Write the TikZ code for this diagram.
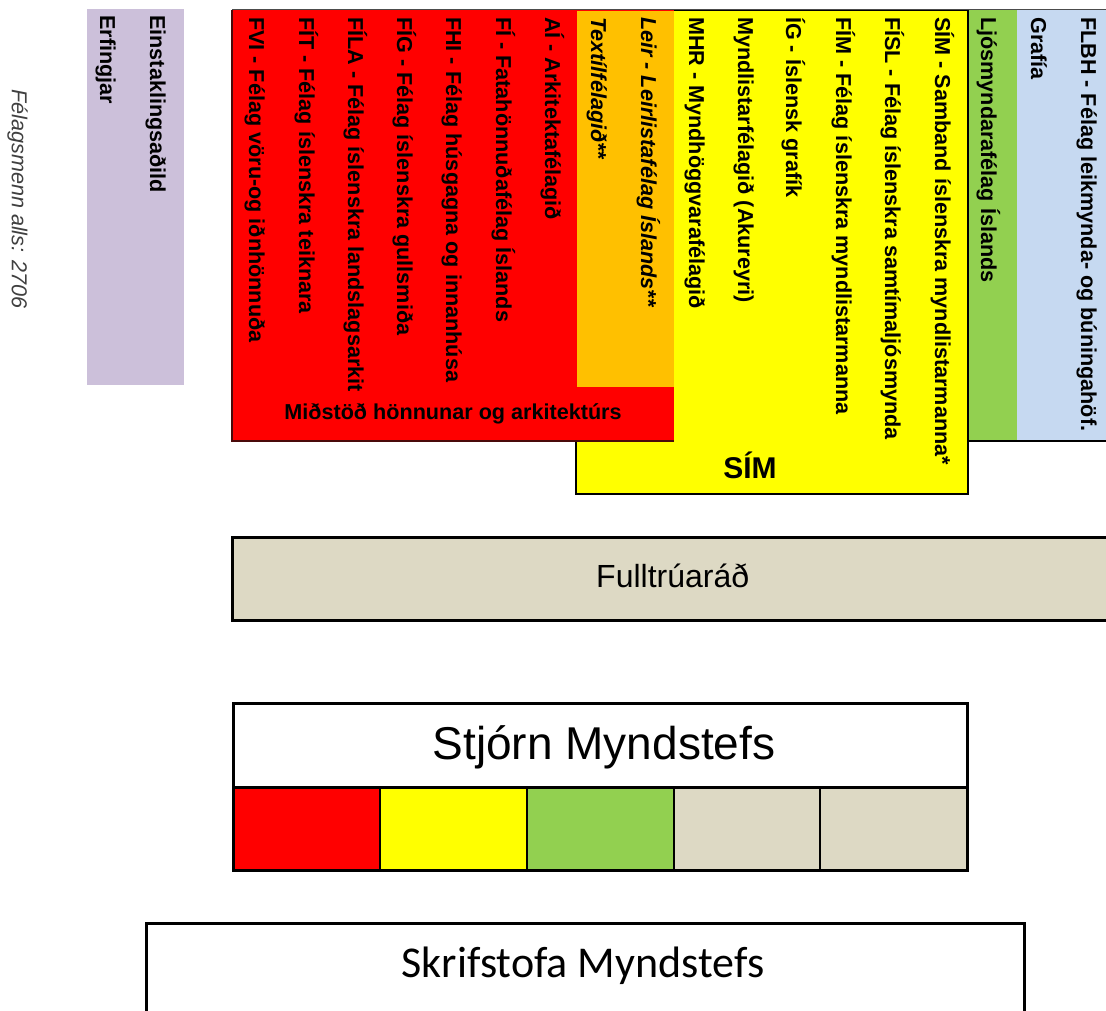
\documentclass[tikz,border=0pt]{standalone}
\usepackage{fontspec}
\setmainfont{Liberation Sans}
\newfontfamily\calfont{Carlito}
\definecolor{cred}{HTML}{FF0000}
\definecolor{corange}{HTML}{FFC000}
\definecolor{cyellow}{HTML}{FFFF00}
\definecolor{cgreen}{HTML}{92D050}
\definecolor{cblue}{HTML}{C6D9F1}
\definecolor{cpurple}{HTML}{CCC0DA}
\definecolor{cbeige}{HTML}{DDD9C4}
\definecolor{cdarkred}{HTML}{4A0A0A}
\begin{document}
\begin{tikzpicture}[x=1pt,y=-1pt,
  vlab/.style={rotate=-90, anchor=base west, inner sep=0pt,
    font=\fontsize{21.6}{26}\selectfont\bfseries},
  vital/.style={vlab, font=\fontsize{21.6}{26}\selectfont\bfseries\itshape},
  hlab/.style={anchor=base, inner sep=0pt},
  thickbox/.style={draw=black, line width=3pt},
  cell/.style={draw=black, line width=2pt}]
\useasboundingbox (0,0) rectangle (1106,1011);
\fill[white] (0,0) rectangle (1106,1011);
\clip (0,0) rectangle (1106,1011);

% top group
\fill[cpurple] (87,9) rectangle (184,385);
\filldraw[fill=cyellow, draw=black, line width=1.5pt] (576,10) rectangle (968,494);
\fill[cred] (232,10) rectangle (674,441);
\draw[cdarkred, line width=1.2pt] (674,441) -- (232,441) -- (232,10);
\fill[corange] (577,11) rectangle (674,387);
\fill[cgreen] (968.7,10) rectangle (1017,441);
\fill[cblue] (1017,10) rectangle (1115,441);
\draw[black, line width=1.2pt] (968,441) -- (1115,441);
\draw[black!70, line width=1pt] (232,10) -- (1115,10);

% member count
\node[vlab, font=\fontsize{21.6}{26}\selectfont\itshape, text=black!75] (total) at (12,89) {Félagsmenn alls: 2706};

% purple
\node[vlab] (einst) at (150,15) {Einstaklingsaðild};
\node[vlab] (erf) at (100,15) {Erfingjar};

% red
\node[vlab] (ai) at (545,17) {AÍ - Arkitektafélagið};
\node[vlab] (fi) at (496,17) {FÍ - Fatahönnuðafélag Íslands};
\node[vlab] (fhi) at (446,17) {FHI - Félag húsgagna og innanhúsa};
\node[vlab] (fig) at (397,17) {FÍG - Félag íslenskra gullsmiða};
\node[vlab] (fila) at (348,17) {FÍLA - Félag íslenskra landslagsarkit};
\node[vlab] (fit) at (299,17) {FÍT - Félag íslenskra teiknara};
\node[vlab] (fvi) at (249,17) {FVI - Félag vöru-og iðnhönnuða};
\node[hlab, font=\fontsize{21.6}{26}\selectfont\bfseries] (midstod) at (453,419) {Miðstöð hönnunar og arkitektúrs};

% orange
\node[vital] (leir) at (641,17) {Leir - Leirlistafélag Íslands**};
\node[vital] (textil) at (591,17) {Textílfélagið**};

% yellow
\node[vlab] (mhr) at (689,17) {MHR - Myndhöggvarafélagið};
\node[vlab] (akur) at (738,17) {Myndlistarfélagið (Akureyri)};
\node[vlab] (ig) at (786,17) {ÍG - Íslensk grafík};
\node[vlab] (fim) at (836,17) {FÍM - Félag íslenskra myndlistarmanna};
\node[vlab] (fisl) at (885,17) {FÍSL - Félag íslenskra samtímaljósmynda};
\node[vlab] (sim) at (935,17) {SÍM - Samband íslenskra myndlistarmanna*};
\node[hlab, font=\fontsize{30}{36}\selectfont\bfseries] (simlabel) at (750,478) {SÍM};

% green / blue
\node[vlab] (ljos) at (981,17) {Ljósmyndarafélag Íslands};
\node[vlab] (grafia) at (1031,17) {Grafía};
\node[vlab] (flbh) at (1081,17) {FLBH - Félag leikmynda- og búningahöf.};

% Fulltruarad
\filldraw[thickbox, fill=cbeige] (232,537) rectangle (1120,620);
\node[hlab, anchor=base west, font=\fontsize{32}{38}\selectfont] (full) at (596,587) {Fulltrúaráð};

% Stjorn
\fill[white] (233,703) rectangle (967,787);
\fill[cred] (233,787) rectangle (380,870);
\fill[cyellow] (380,787) rectangle (527,870);
\fill[cgreen] (527,787) rectangle (674,870);
\fill[cbeige] (674,787) rectangle (967,870);
\draw[cell] (380,787) -- (380,870) (527,787) -- (527,870) (674,787) -- (674,870) (820,787) -- (820,870);
\draw[thickbox] (233,787) -- (967,787);
\draw[thickbox] (233,703) rectangle (967,870);
\node[hlab, font=\fontsize{46}{54}\selectfont] (stjorn) at (604,759) {Stjórn Myndstefs};

% Skrifstofa
\draw[thickbox] (146,923) rectangle (1024,1030);
\node[hlab, font=\calfont\fontsize{44}{52}\selectfont] (skrif) at (583,977) {Skrifstofa Myndstefs};
\end{tikzpicture}
\end{document}
